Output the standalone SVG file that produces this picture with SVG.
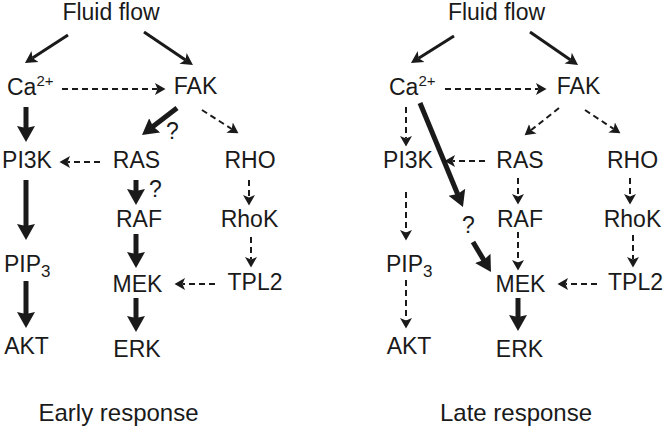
<svg xmlns="http://www.w3.org/2000/svg" width="666" height="429" viewBox="0 0 666 429">
<style>
text{font-family:"Liberation Sans",Arial,sans-serif;font-size:23px;fill:#1a1a1a}
.m{text-anchor:middle}
.lab{font-size:24px}
.sup{font-size:15px}
.sub{font-size:17px}
.thick{stroke:#1a1a1a;stroke-width:5;fill:none;marker-end:url(#hThick)}
.thin{stroke:#1a1a1a;stroke-width:3;fill:none;marker-end:url(#hThin)}
.dash{stroke:#1a1a1a;stroke-width:2;fill:none;stroke-dasharray:6 4;marker-end:url(#hDash)}
</style>
<defs>
<marker id="hThick" markerUnits="userSpaceOnUse" viewBox="0 -10 20 20" markerWidth="20" markerHeight="20" refX="3" refY="0" orient="auto"><path d="M0,-9 L16,0 L0,9 L2,0 Z" fill="#1a1a1a"/></marker>
<marker id="hThin" markerUnits="userSpaceOnUse" viewBox="0 -10 20 20" markerWidth="20" markerHeight="20" refX="3" refY="0" orient="auto"><path d="M0,-6.5 L12,0 L0,6.5 L3,0 Z" fill="#1a1a1a"/></marker>
<marker id="hDash" markerUnits="userSpaceOnUse" viewBox="0 -10 20 20" markerWidth="20" markerHeight="20" refX="2.5" refY="0" orient="auto"><path d="M0,-6 L10.5,0 L0,6 L2.5,0 Z" fill="#1a1a1a"/></marker>
</defs>
<rect width="666" height="429" fill="#fff"/>
<g id="connectors">
<line class="thin" x1="68" y1="35" x2="32.5" y2="58.1"/>
<line class="thin" x1="144" y1="32" x2="185.5" y2="60"/>
<line class="dash" x1="62" y1="89" x2="157.5" y2="89"/>
<line class="thick" x1="26" y1="107" x2="26" y2="129"/>
<line class="thick" x1="177" y1="108" x2="152.3" y2="127.1"/>
<line class="dash" x1="202" y1="110" x2="231.7" y2="129"/>
<line class="dash" x1="100" y1="162" x2="67.5" y2="162"/>
<line class="thick" x1="136" y1="180" x2="136" y2="192"/>
<line class="dash" x1="249" y1="180" x2="249" y2="197.5"/>
<line class="thick" x1="26" y1="180" x2="26" y2="227"/>
<line class="thick" x1="136" y1="234" x2="136" y2="255"/>
<line class="dash" x1="251" y1="237" x2="251" y2="259.5"/>
<line class="dash" x1="215" y1="284" x2="182.5" y2="284"/>
<line class="thick" x1="136" y1="298" x2="136" y2="319"/>
<line class="thick" x1="26" y1="281" x2="26" y2="315"/>
<line class="thin" x1="454" y1="36" x2="418.6" y2="58.2"/>
<line class="thin" x1="530" y1="32" x2="570.6" y2="59.9"/>
<line class="dash" x1="445" y1="89" x2="538.5" y2="89"/>
<line class="dash" x1="406" y1="107" x2="406" y2="138.5"/>
<line class="thick" x1="420" y1="103" x2="458" y2="195"/>
<line class="thick" x1="473" y1="242" x2="484.3" y2="260.9"/>
<line class="dash" x1="485" y1="161" x2="452.5" y2="161"/>
<line class="dash" x1="559" y1="108" x2="530.9" y2="130.3"/>
<line class="dash" x1="585" y1="110" x2="613.7" y2="128.9"/>
<line class="dash" x1="518" y1="178" x2="518" y2="196.5"/>
<line class="dash" x1="630" y1="178" x2="630" y2="196.5"/>
<line class="dash" x1="518" y1="232" x2="518" y2="262.5"/>
<line class="dash" x1="633" y1="235" x2="633" y2="259.5"/>
<line class="dash" x1="597" y1="284" x2="565.5" y2="284"/>
<line class="thick" x1="518" y1="298" x2="518" y2="318"/>
<line class="dash" x1="406" y1="192" x2="406" y2="232.5"/>
<line class="dash" x1="406" y1="280" x2="406" y2="320.5"/>
<text x="166" y="139">?</text>
<text x="149" y="197">?</text>
<text x="462" y="233">?</text>
</g>
<g id="early">
<g id="e-fluid"><text class="m" x="111" y="20">Fluid flow</text></g>
<g id="e-ca"><text x="7" y="95">Ca<tspan class="sup" dy="-9">2+</tspan></text></g>
<g id="e-fak"><text class="m" x="195.5" y="94">FAK</text></g>
<g id="e-pi3k"><text class="m" x="27" y="168">PI3K</text></g>
<g id="e-ras"><text class="m" x="136.5" y="168">RAS</text></g>
<g id="e-rho"><text class="m" x="250" y="168">RHO</text></g>
<g id="e-raf"><text class="m" x="139" y="227">RAF</text></g>
<g id="e-rhok"><text class="m" x="249.5" y="227">RhoK</text></g>
<g id="e-pip3"><text x="4" y="272">PIP<tspan class="sub" dy="5">3</tspan></text></g>
<g id="e-mek"><text class="m" x="137.5" y="292">MEK</text></g>
<g id="e-tpl2"><text class="m" x="255" y="290">TPL2</text></g>
<g id="e-akt"><text class="m" x="26.5" y="354">AKT</text></g>
<g id="e-erk"><text class="m" x="137" y="357">ERK</text></g>
<g id="e-label"><text class="m lab" x="118.5" y="421">Early response</text></g>
</g>
<g id="late">
<g id="l-fluid"><text class="m" x="496.5" y="20">Fluid flow</text></g>
<g id="l-ca"><text x="389" y="95">Ca<tspan class="sup" dy="-9">2+</tspan></text></g>
<g id="l-fak"><text class="m" x="578.5" y="94">FAK</text></g>
<g id="l-pi3k"><text class="m" x="408" y="168">PI3K</text></g>
<g id="l-ras"><text class="m" x="520" y="168">RAS</text></g>
<g id="l-rho"><text class="m" x="632.5" y="168">RHO</text></g>
<g id="l-raf"><text class="m" x="520" y="227">RAF</text></g>
<g id="l-rhok"><text class="m" x="632.5" y="227">RhoK</text></g>
<g id="l-pip3"><text x="386" y="272">PIP<tspan class="sub" dy="5">3</tspan></text></g>
<g id="l-mek"><text class="m" x="520.5" y="292">MEK</text></g>
<g id="l-tpl2"><text class="m" x="635.5" y="290">TPL2</text></g>
<g id="l-akt"><text class="m" x="409" y="354">AKT</text></g>
<g id="l-erk"><text class="m" x="519.5" y="357">ERK</text></g>
<g id="l-label"><text class="m lab" x="516" y="421">Late response</text></g>
</g>
</svg>
